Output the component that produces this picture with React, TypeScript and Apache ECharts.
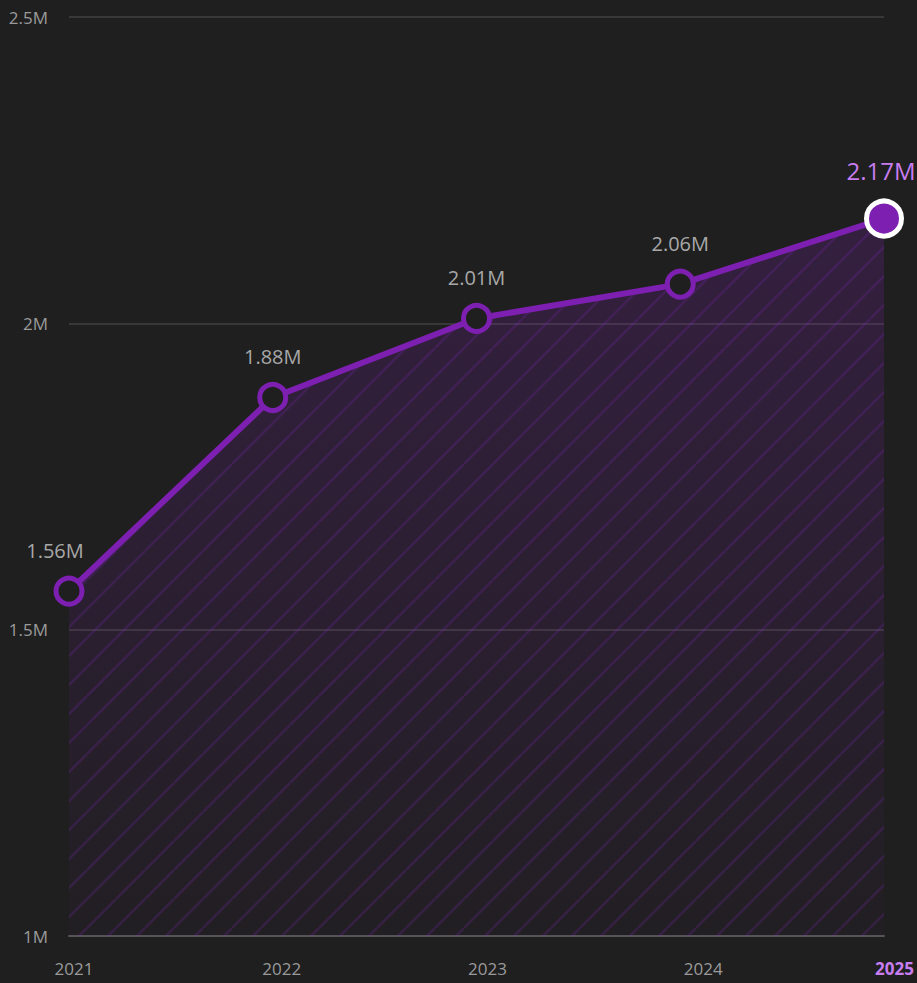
import React, { useEffect, useRef } from "react";
import * as echarts from "echarts";

const years = ["2021", "2022", "2023", "2024", "2025"];
const values = [1.563, 1.879, 2.008, 2.064, 2.171];
const valueLabels = ["1.56M", "1.88M", "2.01M", "2.06M", "2.17M"];
const yTicks = [1, 1.5, 2, 2.5];
const yearLabelShift = [10, 18, 22, 46, 0];

const PURPLE = "#7d1fb0";
const BG = "#1f1f1f";

function makeHatch(): string {
  const s = 29;
  const c = document.createElement("canvas");
  c.width = s;
  c.height = s;
  const ctx = c.getContext("2d")!;
  ctx.strokeStyle = "rgba(130,40,190,0.3)";
  ctx.lineWidth = 2.5;
  for (const off of [-s, 0, s]) {
    ctx.beginPath();
    ctx.moveTo(off, s);
    ctx.lineTo(off + s, 0);
    ctx.stroke();
  }
  return c.toDataURL();
}

export default function App() {
  const ref = useRef<HTMLDivElement>(null);
  useEffect(() => {
    document.body.style.margin = "0";
    document.body.style.background = BG;
    const chart = echarts.init(ref.current!, undefined, { renderer: "svg" });
    const last = years.length - 1;
    const mainData = values.map((v, i) =>
      i === last
        ? {
            value: v,
            symbolSize: 35,
            itemStyle: { color: PURPLE, borderColor: "#ffffff", borderWidth: 5 },
            label: { color: "#c77df0", fontSize: 24, distance: 16, offset: [-3, 0] },
          }
        : i === 0
        ? { value: v, label: { offset: [-14, 0] } }
        : { value: v }
    );
    chart.setOption({
      animation: false,
      backgroundColor: BG,
      grid: { left: 69, right: 30, top: 17, bottom: 47 },
      xAxis: {
        type: "category",
        boundaryGap: false,
        data: years.map((y, i) =>
          i === last
            ? { value: y, textStyle: { color: "#c77df0", fontWeight: "bold", align: "right", padding: [0, -30, 0, 0] } }
            : { value: y, textStyle: { padding: [0, 0, 0, yearLabelShift[i]] } }
        ),
        axisLine: { show: true, lineStyle: { color: "#555555", width: 2 } },
        axisTick: { show: false },
        axisLabel: { color: "#9a9a9a", fontSize: 17, margin: 24, fontFamily: "Open Sans" },
        splitLine: { show: false },
      },
      yAxis: {
        type: "value",
        min: yTicks[0],
        max: yTicks[yTicks.length - 1],
        interval: 0.5,
        axisLine: { show: false },
        axisTick: { show: false },
        axisLabel: {
          color: "#9a9a9a",
          fontSize: 17,
          margin: 21,
          fontFamily: "Open Sans",
          formatter: (v: number) => `${v}M`,
        },
        splitLine: { lineStyle: { color: "#383838", width: 2 } },
      },
      series: [
        {
          type: "line",
          data: values,
          symbol: "none",
          silent: true,
          z: 1,
          lineStyle: { width: 0 },
          areaStyle: {
            color: {
              type: "linear",
              x: 0,
              y: 0,
              x2: 0,
              y2: 1,
              colorStops: [
                { offset: 0, color: "rgba(125,31,176,0.32)" },
                { offset: 1, color: "rgba(125,31,176,0.04)" },
              ],
            },
          },
        },
        {
          type: "line",
          data: values,
          symbol: "none",
          silent: true,
          z: 2,
          lineStyle: { width: 0 },
          areaStyle: { color: { image: makeHatch(), repeat: "repeat" } as any },
        },
        {
          type: "line",
          data: mainData,
          z: 3,
          symbol: "circle",
          symbolSize: 26,
          lineStyle: { color: PURPLE, width: 6 },
          itemStyle: { color: BG, borderColor: PURPLE, borderWidth: 5 },
          label: {
            show: true,
            position: "top",
            distance: 15,
            color: "#a8a8a8",
            fontSize: 20,
            fontFamily: "Open Sans",
            formatter: (p: any) => valueLabels[p.dataIndex],
          },
        },
      ],
    });
    return () => chart.dispose();
  }, []);
  return <div ref={ref} style={{ width: 917, height: 983 }} />;
}
